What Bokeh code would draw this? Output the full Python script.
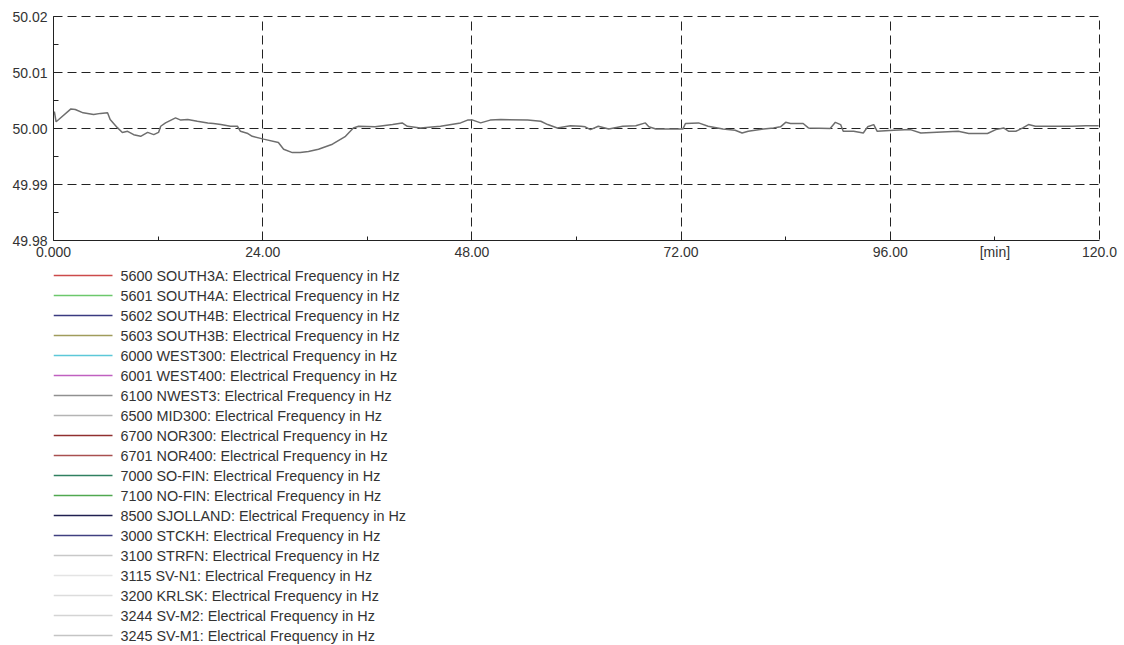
from bokeh.plotting import figure
from bokeh.layouts import column
from bokeh.models import (FixedTicker, PrintfTickFormatter, Range1d, ColumnDataSource)
from bokeh.core.properties import value
from bokeh.embed import file_html
from bokeh.resources import INLINE

# ---- data ----
minutes = [0.0, 0.1, 0.3, 0.6, 2.0, 2.5, 3.4, 4.6, 5.4, 6.2, 6.5, 7.3, 7.9, 8.5, 9.2, 10.0,
           10.8, 11.5, 12.05, 12.3, 12.85, 14.0, 14.6, 15.4, 16.5, 17.7, 18.35, 19.2, 20.3,
           21.1, 21.45, 22.3, 22.8, 24.1, 25.8, 26.4, 27.4, 28.3, 29.25, 30.4, 32.0, 33.5,
           34.4, 35.0, 36.9, 38.9, 40.0, 40.6, 42.1, 44.4, 46.7, 47.5, 48.1, 49.0, 50.1,
           51.3, 54.4, 55.9, 56.7, 57.8, 59.3, 60.5, 61.0, 61.6, 62.5, 63.7, 65.3, 66.8,
           67.9, 68.3, 69.1, 71.0, 72.2, 72.5, 74.0, 75.1, 76.8, 78.2, 79.0, 79.7, 81.45,
           82.6, 83.4, 84.0, 84.55, 86.0, 86.6, 89.1, 89.7, 90.3, 90.6, 91.8, 92.9, 93.4,
           94.1, 94.5, 96.4, 98.3, 99.5, 103.8, 105.0, 107.15, 108.1, 109.0, 109.6, 110.4,
           111.2, 111.85, 112.65, 115.3, 116.9, 118.4, 119.9]
freq_hz = [50.0025, 50.0030, 50.0012, 50.0016, 50.0035, 50.0034, 50.0028, 50.0025, 50.0027,
           50.0028, 50.0016, 50.0002, 49.9993, 49.9995, 49.9989, 49.9986, 49.9993, 49.9989,
           49.9993, 50.0004, 50.0010, 50.0019, 50.0015, 50.0016, 50.0013, 50.0010, 50.0009,
           50.0007, 50.0004, 50.0004, 49.9995, 49.9991, 49.9986, 49.9981, 49.9975, 49.9963,
           49.9957, 49.9957, 49.9959, 49.9963, 49.9972, 49.9986, 50.0001, 50.0004, 50.0003,
           50.0007, 50.0010, 50.0004, 50.0001, 50.0004, 50.0010, 50.0015, 50.0015, 50.0010,
           50.0015, 50.0016, 50.0015, 50.0013, 50.0007, 50.0001, 50.0005, 50.0004, 50.0003,
           49.9998, 50.0004, 49.9999, 50.0004, 50.0005, 50.0010, 50.0003, 49.9999, 49.9999,
           49.9999, 50.0009, 50.0010, 50.0004, 49.9999, 49.9997, 49.9992, 49.9995, 49.9999,
           50.0001, 50.0003, 50.0011, 50.0009, 50.0009, 50.0001, 50.0000, 50.0011, 50.0007,
           49.9995, 49.9995, 49.9992, 50.0003, 50.0007, 49.9995, 49.9997, 49.9998, 49.9992,
           49.9995, 49.9991, 49.9991, 49.9998, 50.0001, 49.9995, 49.9995, 50.0001, 50.0007,
           50.0004, 50.0004, 50.0004, 50.0005, 50.0005]

y_ticks = [49.98, 49.99, 50.00, 50.01, 50.02]
y_minor = [49.985, 49.995, 50.005, 50.015]
x_grid = [24, 48, 72, 96]
x_ticks = [0, 24, 48, 72, 96, 108, 120]
x_minor = [12, 36, 60, 84, 108]
x_labels = {0: "0.000", 24: "24.00", 48: "48.00", 72: "72.00", 96: "96.00",
            108: "[min]", 120: "120.0"}

series_names = ["5600 SOUTH3A", "5601 SOUTH4A", "5602 SOUTH4B", "5603 SOUTH3B",
                "6000 WEST300", "6001 WEST400", "6100 NWEST3", "6500 MID300",
                "6700 NOR300", "6701 NOR400", "7000 SO-FIN", "7100 NO-FIN",
                "8500 SJOLLAND", "3000 STCKH", "3100 STRFN", "3115 SV-N1",
                "3200 KRLSK", "3244 SV-M2", "3245 SV-M1"]
series_colors = ["#cc4a4a", "#6cc86c", "#3a3a80", "#a09c5c", "#5cc8d8", "#c060c0",
                 "#909090", "#b4b4b4", "#903030", "#a85050", "#308060", "#50a850",
                 "#202050", "#404080", "#c8c8c8", "#e4e4e4", "#dcdcdc", "#d4d4d4",
                 "#c4c4c4"]
suffix = ": Electrical Frequency in Hz"

FONT = "Liberation Sans"
ROW_H = 20
LEFT, RIGHT_PAD, W = 53, 25, 1124

# ---------------- main chart ----------------
p = figure(width=W, height=262, output_backend="svg", toolbar_location=None,
           x_range=Range1d(0, 120), y_range=Range1d(49.98, 50.02),
           min_border_left=LEFT, min_border_right=RIGHT_PAD, min_border_top=16,
           min_border_bottom=20)
p.outline_line_color = "#222222"
p.outline_line_dash = "9 5"
p.outline_line_width = 1
p.background_fill_color = "white"
p.border_fill_color = "white"

p.xaxis.ticker = FixedTicker(ticks=x_ticks, minor_ticks=x_minor)
p.xaxis.major_label_overrides = x_labels
p.yaxis.ticker = FixedTicker(ticks=y_ticks, minor_ticks=y_minor)
p.yaxis.formatter = PrintfTickFormatter(format="%.2f")
for ax in (p.xaxis, p.yaxis):
    ax.axis_line_color = "#222222"
    ax.axis_line_width = 1
    ax.major_tick_in = 0
    ax.major_tick_out = 0
    ax.minor_tick_out = 0
    ax.minor_tick_line_color = "#222222"
    ax.major_label_text_font = FONT
    ax.major_label_text_font_size = "14px"
    ax.major_label_text_color = "#333333"
p.xaxis.minor_tick_in = 4
p.yaxis.minor_tick_in = 5
p.xaxis.major_label_standoff = 3
p.yaxis.major_label_standoff = 6

p.xgrid.ticker = FixedTicker(ticks=x_grid)
p.ygrid.ticker = FixedTicker(ticks=y_ticks[1:4])
for g in (p.xgrid, p.ygrid):
    g.grid_line_color = "#222222"
    g.grid_line_dash = "9 5"
    g.grid_line_width = 1

p.line(minutes, freq_hz, line_color="#6e6e6e", line_width=1.5)

# ---------------- legend block (pixel-space coordinates, frame aligned) ----------------
LEG_H = 383
lf = figure(width=W, height=LEG_H, output_backend="svg", toolbar_location=None,
            x_range=Range1d(LEFT, W - RIGHT_PAD), y_range=Range1d(LEG_H, 0),
            x_axis_location=None, y_axis_location=None,
            min_border_left=LEFT, min_border_right=RIGHT_PAD, min_border_top=0,
            min_border_bottom=0)
lf.grid.visible = False
lf.outline_line_color = None
lf.background_fill_color = "white"
lf.border_fill_color = "white"

rows = [13 + ROW_H * i for i in range(len(series_names))]
leg_src = ColumnDataSource(dict(
    x0=[53] * len(rows), x1=[112] * len(rows), tx=[120] * len(rows), y=rows,
    color=series_colors, label=[n + suffix for n in series_names]))
lf.segment(x0="x0", y0="y", x1="x1", y1="y", line_color="color", line_width=1.3,
           source=leg_src)
lf.text(x="tx", y="y", text="label", source=leg_src, text_font=value(FONT),
        text_font_size="14.4px", text_color="#333333", text_baseline="middle",
        text_align="left")

layout = column(p, lf, spacing=0)
open("out.html", "w").write(file_html(layout, INLINE))
